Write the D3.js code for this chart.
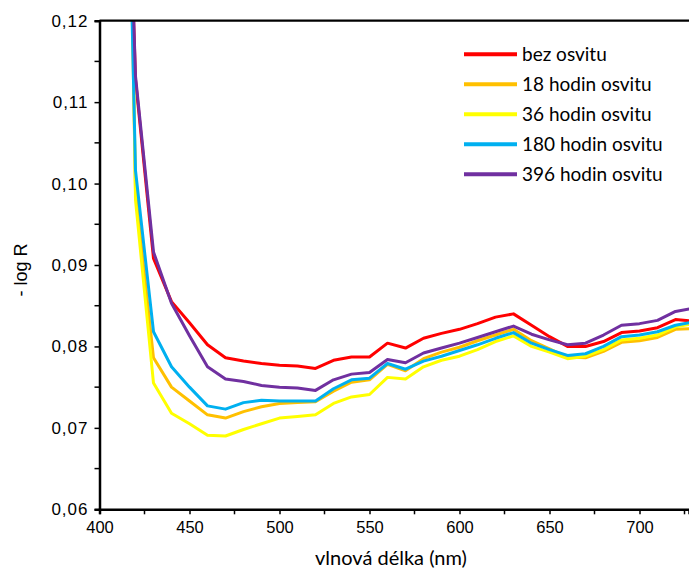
<!DOCTYPE html>
<html lang="cs">
<head>
    <meta charset="UTF-8">
    <title>- log R</title>
    <script src="https://cdn.jsdelivr.net/npm/d3@7"></script>
    <style>
        body { margin: 0; background: #fff; }
        text { fill: #000; }
    </style>
</head>
<body>
<script>
    // data
    const wavelengths = [410, 420, 430, 440, 450, 460, 470, 480, 490, 500, 510, 520, 530, 540, 550, 560, 570,
        580, 590, 600, 610, 620, 630, 640, 650, 660, 670, 680, 690, 700, 710, 720, 730];
    const seriesNames = ['bez osvitu', '18 hodin osvitu', '36 hodin osvitu', '180 hodin osvitu', '396 hodin osvitu'];
    const bezOsvitu = [0.183, 0.1128, 0.0908, 0.0855, 0.0829, 0.0802, 0.0786, 0.0782, 0.0779, 0.0777, 0.0776, 0.0773, 0.0783,
        0.0787, 0.0787, 0.0804, 0.0798, 0.0810, 0.0816, 0.0821, 0.0828, 0.0836, 0.0840, 0.0826, 0.0812, 0.0800, 0.0800,
        0.0806, 0.0817, 0.0819, 0.0823, 0.0833, 0.0831];
    const hod18 = [0.22, 0.0990, 0.0786, 0.0750, 0.0733, 0.0716, 0.0712, 0.0720, 0.0726, 0.0730, 0.0731, 0.0732, 0.0745,
        0.0756, 0.0759, 0.0778, 0.0770, 0.0785, 0.0793, 0.0799, 0.0807, 0.0814, 0.0821, 0.0807, 0.0797, 0.0787, 0.0786,
        0.0794, 0.0805, 0.0807, 0.0811, 0.0821, 0.0822];
    const hod36 = [0.25, 0.0980, 0.0755, 0.0718, 0.0705, 0.0691, 0.0690, 0.0698, 0.0705, 0.0712, 0.0714, 0.0716, 0.0730,
        0.0738, 0.0741, 0.0762, 0.0760, 0.0775, 0.0783, 0.0788, 0.0796, 0.0806, 0.0813, 0.0800, 0.0793, 0.0785, 0.0788,
        0.0796, 0.0808, 0.0810, 0.0814, 0.0824, 0.0828];
    const hod180 = [0.20, 0.1016, 0.0818, 0.0775, 0.0750, 0.0727, 0.0723, 0.0731, 0.0734, 0.0733, 0.0733, 0.0733, 0.0748,
        0.0759, 0.0761, 0.0779, 0.0772, 0.0782, 0.0788, 0.0795, 0.0802, 0.0810, 0.0817, 0.0804, 0.0796, 0.0789, 0.0791,
        0.0800, 0.0812, 0.0814, 0.0818, 0.0826, 0.0830];
    const hod396 = [0.183, 0.1132, 0.0916, 0.0853, 0.0813, 0.0775, 0.0760, 0.0757, 0.0752, 0.0750, 0.0749, 0.0746, 0.0759,
        0.0766, 0.0768, 0.0784, 0.0780, 0.0792, 0.0798, 0.0804, 0.0811, 0.0818, 0.0825, 0.0815, 0.0808, 0.0802, 0.0804,
        0.0814, 0.0826, 0.0828, 0.0832, 0.0843, 0.0847];
    const xTicks = [400, 450, 500, 550, 600, 650, 700];
    const yTicks = [0.06, 0.07, 0.08, 0.09, 0.10, 0.11, 0.12];

    const colors = ['#ff0000', '#ffc000', '#ffff00', '#00b0f0', '#7030a0'];
    const allSeries = [bezOsvitu, hod18, hod36, hod180, hod396];

    const width = 689;
    const height = 570;
    const plot = { left: 99.5, top: 20.7, right: 689, bottom: 509.3 };

    let svg = d3.select('body')
        .append('svg')
        .attr('width', width)
        .attr('height', height);

    // scales: 400 -> 99.5, 700 -> 639.5
    let xScale = d3.scaleLinear()
        .domain([400, 400 + (plot.right - plot.left) / 1.8])
        .range([plot.left, plot.right]);

    let yScale = d3.scaleLinear()
        .domain([0.06, 0.12])
        .range([plot.bottom, plot.top]);

    svg.append('clipPath')
        .attr('id', 'clip')
        .append('rect')
        .attr('x', plot.left)
        .attr('y', plot.top)
        .attr('width', plot.right - plot.left)
        .attr('height', plot.bottom - plot.top);

    // lines
    let line = d3.line()
        .x((d, i) => xScale(wavelengths[i]))
        .y(d => yScale(d));

    svg.append('g')
        .attr('clip-path', 'url(#clip)')
        .selectAll('path')
        .data(allSeries)
        .enter()
        .append('path')
        .attr('d', d => line(d))
        .attr('fill', 'none')
        .attr('stroke', (d, i) => colors[i])
        .attr('stroke-width', 3)
        .attr('stroke-linejoin', 'round');

    // top border
    svg.append('line')
        .attr('x1', plot.left)
        .attr('x2', plot.right)
        .attr('y1', plot.top)
        .attr('y2', plot.top)
        .attr('stroke', '#000')
        .attr('stroke-width', 2.2);

    // x axis
    let xAxis = d3.axisBottom(xScale)
        .tickValues(xTicks)
        .tickSize(5)
        .tickPadding(7)
        .tickFormat(d3.format('d'));

    let gx = svg.append('g')
        .attr('transform', `translate(0, ${plot.bottom})`)
        .call(xAxis);

    gx.append('g')
        .selectAll('line')
        .data(d3.range(425, 740, 50).filter(v => xScale(v) <= plot.right))
        .enter()
        .append('line')
        .attr('x1', d => xScale(d))
        .attr('x2', d => xScale(d))
        .attr('y1', 0)
        .attr('y2', 5)
        .attr('stroke', '#000')
        .attr('stroke-width', 1.5);

    // y axis
    let yAxis = d3.axisLeft(yScale)
        .tickValues(yTicks)
        .tickSize(5)
        .tickPadding(6)
        .tickFormat(d => d3.format('.2f')(d).replace('.', ','));

    let gy = svg.append('g')
        .attr('transform', `translate(${plot.left}, 0)`)
        .call(yAxis);

    gy.append('g')
        .selectAll('line')
        .data(d3.range(0.065, 0.12, 0.01))
        .enter()
        .append('line')
        .attr('x1', -5)
        .attr('x2', 0)
        .attr('y1', d => yScale(d))
        .attr('y2', d => yScale(d))
        .attr('stroke', '#000')
        .attr('stroke-width', 1.5);

    [gx, gy].forEach(g => {
        g.select('.domain').attr('stroke', '#000').attr('stroke-width', 2.5);
        g.selectAll('.tick line').attr('stroke', '#000').attr('stroke-width', 1.5);
        g.selectAll('.tick text')
            .attr('fill', '#000')
            .style('font-family', '"Liberation Sans", Arial, sans-serif')
            .style('font-size', '16.5px');
    });
    gy.selectAll('.tick text')
        .style('font-size', '17px')
        .style('letter-spacing', '1px');

    // axis titles
    svg.append('text')
        .attr('x', 391)
        .attr('y', 565)
        .attr('text-anchor', 'middle')
        .style('font-family', 'Lato, "Open Sans", sans-serif')
        .style('font-size', '20px')
        .text('vlnová délka (nm)');

    svg.append('text')
        .attr('transform', 'translate(27, 270) rotate(-90)')
        .attr('text-anchor', 'middle')
        .style('font-family', '"Liberation Sans", Arial, sans-serif')
        .style('font-size', '18px')
        .text('- log R');

    // legend
    let legend = svg.append('g')
        .selectAll('g')
        .data(seriesNames)
        .enter()
        .append('g')
        .attr('transform', (d, i) => `translate(464, ${54.3 + i * 30})`);

    legend.append('line')
        .attr('x1', 0)
        .attr('x2', 53)
        .attr('stroke', (d, i) => colors[i])
        .attr('stroke-width', 4);

    legend.append('text')
        .attr('x', 58)
        .attr('dy', '0.36em')
        .style('font-family', 'Lato, "Open Sans", sans-serif')
        .style('font-size', '19px')
        .text(d => d);
</script>
</body>
</html>
